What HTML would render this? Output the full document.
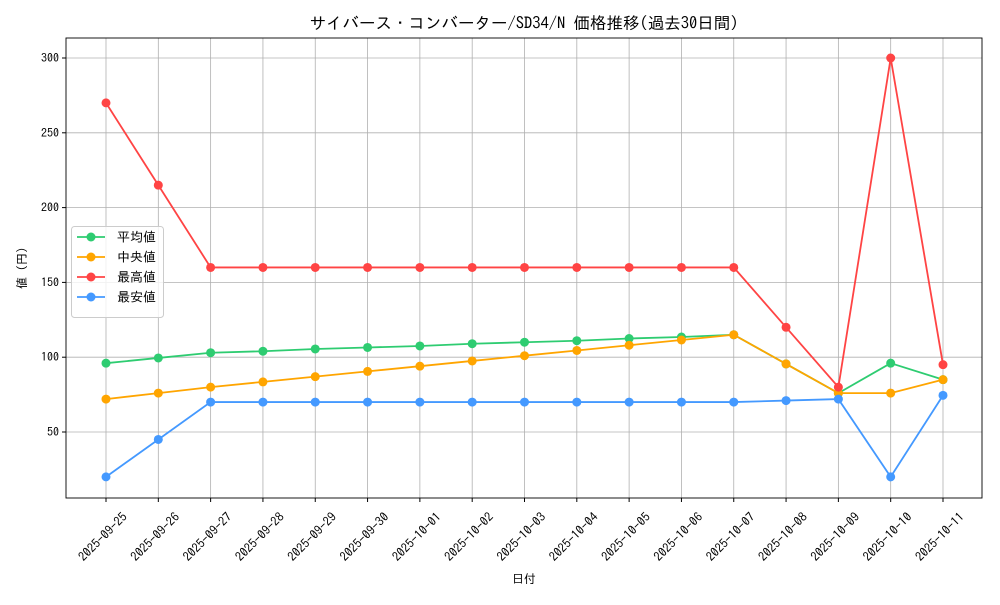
<!DOCTYPE html>
<html><head><meta charset="utf-8"><style>
body{margin:0;background:#fff}
svg text{font-family:"IPAGothic","Noto Sans CJK JP",sans-serif;fill:#000}
</style></head><body>
<svg id="c" width="1000" height="600" xmlns="http://www.w3.org/2000/svg"></svg>
<script>
const s=document.getElementById('c');
const L=66,R=982,T=38,B=498;
const X=i=>106+i*(943-106)/16, Y=v=>58+(300-v)*374/250;
let h='<rect width="1000" height="600" fill="#fff"/>';
const dates=["2025-09-25","2025-09-26","2025-09-27","2025-09-28","2025-09-29","2025-09-30","2025-10-01","2025-10-02","2025-10-03","2025-10-04","2025-10-05","2025-10-06","2025-10-07","2025-10-08","2025-10-09","2025-10-10","2025-10-11"];
dates.forEach((d,i)=>{const x=X(i);h+=`<line x1="${x}" y1="${T}" x2="${x}" y2="${B}" stroke="#b0b0b0" stroke-width="0.8"/><line x1="${x}" y1="${B}" x2="${x}" y2="${B+4}" stroke="#000"/>`;
h+=`<text font-size="12.5" text-anchor="middle" transform="translate(${x-3},${B+39}) rotate(-45)" dy="4">${d}</text>`;});
[50,100,150,200,250,300].forEach(v=>{const y=Y(v);h+=`<line x1="${L}" y1="${y}" x2="${R}" y2="${y}" stroke="#b0b0b0" stroke-width="0.8"/><line x1="${L-4}" y1="${y}" x2="${L}" y2="${y}" stroke="#000"/><text x="${L-7}" y="${y+4}" font-size="12" text-anchor="end">${v}</text>`;});
const ser=[
["#2ecc71",[96,99.5,103,104,105.5,106.5,107.5,109,110,111,112.5,113.5,115,95.5,76,96,85]],
["#ffa500",[72,76,80,83.5,87,90.5,94,97.5,101,104.5,108,111.5,115,95.5,76,76,85]],
["#ff4444",[270,215,160,160,160,160,160,160,160,160,160,160,160,120,80,300,95]],
["#4499ff",[20,45,70,70,70,70,70,70,70,70,70,70,70,71,72,20,74.5]]];
ser.forEach(([c,d])=>{h+=`<polyline fill="none" stroke="${c}" stroke-width="1.8" points="${d.map((v,i)=>X(i)+','+Y(v)).join(' ')}"/>`;
d.forEach((v,i)=>h+=`<circle cx="${X(i)}" cy="${Y(v)}" r="4.5" fill="${c}"/>`);});
h+=`<rect x="${L}" y="${T}" width="${R-L}" height="${B-T}" fill="none" stroke="#000" stroke-width="0.9"/>`;
h+=`<rect x="71.5" y="226.5" width="92" height="91" rx="3" fill="#fff" fill-opacity="0.8" stroke="#ccc"/>`;
["平均値","中央値","最高値","最安値"].forEach((t,i)=>{const y=237+i*20;h+=`<line x1="77" y1="${y}" x2="105" y2="${y}" stroke="${ser[i][0]}" stroke-width="1.8"/><circle cx="91" cy="${y}" r="4.5" fill="${ser[i][0]}"/><text x="117" y="${y+4.5}" font-size="13">${t}</text>`;});
h+=`<text x="524" y="29" font-size="16.5" text-anchor="middle">サイバース・コンバーター/SD34/N 価格推移(過去30日間)</text>`;
h+=`<text x="524" y="583" font-size="12" text-anchor="middle">日付</text>`;
h+=`<text font-size="12" text-anchor="middle" transform="translate(26,268) rotate(-90)">値 (円)</text>`;
s.innerHTML=h;
</script>
</body></html>
